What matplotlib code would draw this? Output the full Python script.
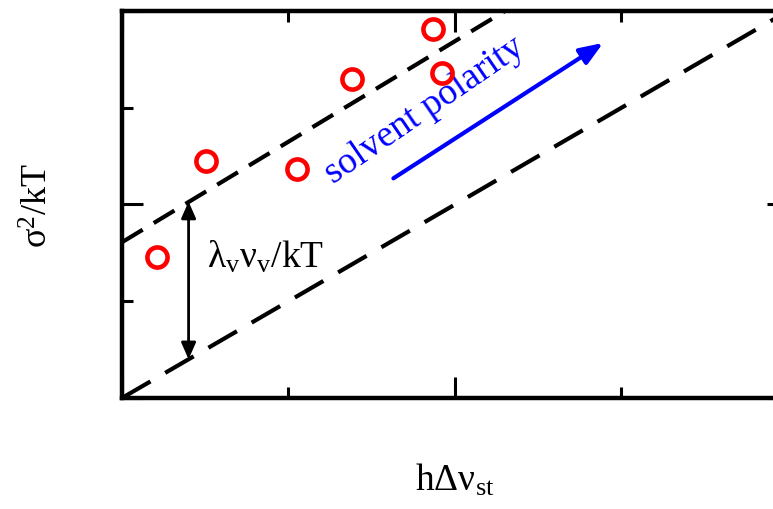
import matplotlib
matplotlib.use("Agg")
import matplotlib.pyplot as plt

plt.rcParams["font.family"] = "Liberation Serif"
plt.rcParams["mathtext.fontset"] = "custom"
plt.rcParams["mathtext.rm"] = "Liberation Serif"
plt.rcParams["mathtext.it"] = "Liberation Serif:italic"
plt.rcParams["mathtext.bf"] = "Liberation Serif:bold"

# measured points (red circles)
stokes_shift = [0.21, 0.505, 1.05, 1.38, 1.87, 1.92]
variance = [1.46, 2.45, 2.37, 3.30, 3.81, 3.36]

# guide lines
lower_x = [0.0, 4.0]
lower_y = [0.0, 4.0]
upper_x = [0.0, 2.3]
upper_y = [1.61, 4.0]

# double arrow (lambda_v nu_v / kT offset)
offset_x = 0.40
offset_from, offset_to = 0.40, 2.03

# solvent polarity arrow
polarity_start = (1.63, 2.27)
polarity_end = (2.89, 3.67)

major_ticks = [0, 2, 4]
minor_ticks = [1, 3]

fig = plt.figure(figsize=(7.73, 5.09), dpi=100)
ax = fig.add_axes([0.1578, 0.2181, 0.8616, 0.7603])

ax.plot(lower_x, lower_y, color="black", lw=3, linestyle=(0, (7.9, 4.1)))
ax.plot(upper_x, upper_y, color="black", lw=3, linestyle=(0, (5.8, 3.1)))

ax.plot(stokes_shift, variance, "o", markersize=14.5, markerfacecolor="none",
        markeredgecolor="#ff0000", markeredgewidth=3.3, zorder=4)

ax.annotate("", xy=(offset_x, offset_to), xytext=(offset_x, offset_from),
            arrowprops=dict(arrowstyle="<|-|>,head_length=0.5,head_width=0.22",
                            color="black", lw=2, mutation_scale=20,
                            shrinkA=0, shrinkB=0))
ax.text(0.51, 1.35, r"$\mathrm{\lambda_v\nu_v/kT}$", fontsize=27,
        ha="left", va="baseline")

ax.annotate("", xy=polarity_end, xytext=polarity_start,
            arrowprops=dict(arrowstyle="-|>,head_length=0.7,head_width=0.27",
                            color="#0000ff", lw=3, mutation_scale=20,
                            shrinkA=0, shrinkB=0))
ax.text(1.27, 2.21, "solvent polarity", color="#0000ff", fontsize=27,
        rotation=34.5, rotation_mode="anchor", ha="left", va="baseline")

ax.set_xlim(0, 4)
ax.set_ylim(0, 4)
ax.set_xticks(major_ticks)
ax.set_yticks(major_ticks)
ax.set_xticks(minor_ticks, minor=True)
ax.set_yticks(minor_ticks, minor=True)
ax.tick_params(which="both", direction="in", top=True, right=True,
               labelbottom=False, labelleft=False, width=2.2)
ax.tick_params(which="major", length=15)
ax.tick_params(which="minor", length=8)
for side in ax.spines:
    ax.spines[side].set_linewidth(3.2)

ax.set_xlabel(r"$\mathrm{h\Delta\nu_{st}}$", fontsize=27)
ax.xaxis.set_label_coords(0.5, -0.165)
ax.set_ylabel(r"$\mathrm{\sigma^2/kT}$", fontsize=26)
ax.yaxis.set_label_coords(-0.099, 0.496)

fig.savefig("out.png", dpi=100)
